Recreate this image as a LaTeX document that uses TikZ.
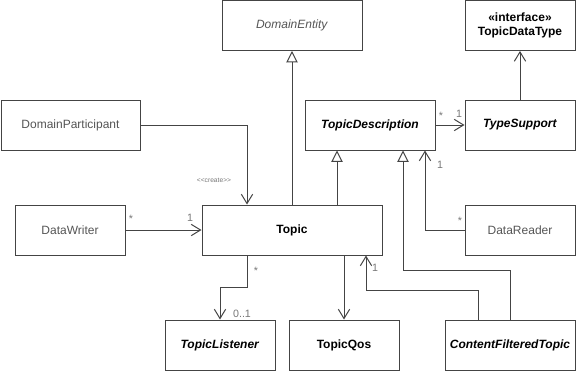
\documentclass[tikz,border=0pt]{standalone}
\usepackage{fontspec}
\setmainfont{Liberation Sans}
\usetikzlibrary{positioning,arrows.meta}
\definecolor{lineGray}{HTML}{444444}
\definecolor{textGray}{HTML}{555555}
\definecolor{labelGray}{HTML}{777777}

\tikzset{
  umlclass/.style={draw=lineGray, line width=0.75pt, fill=white, minimum height=37.5pt,
    inner sep=0pt, align=center, font=\fontsize{9}{10.5}\selectfont},
  boxw/.style={minimum width=#1*0.75pt},
  assoc/.style={lineGray, line width=0.75pt, -{Straight Barb[length=7pt,width=8.5pt]}},
  gen/.style={lineGray, line width=0.75pt, -{Triangle[open,length=8.5pt,width=8.5pt,fill=white]}},
  mult/.style={labelGray, font=\fontsize{8}{9}\selectfont, inner sep=0pt},
}

\begin{document}
\begin{tikzpicture}[x=0.75pt,y=-0.75pt]
        \useasboundingbox (0,0) rectangle (576,371);
        % classes
        \node[umlclass, boxw=140] (entity) at (292,25.5) {\textcolor{textGray}{\textit{DomainEntity}}};
        \node[umlclass, boxw=110] (datatype) at (520,25.5) {\textbf{«interface»}\\\textbf{TopicDataType}};
        \node[umlclass, boxw=139] (participant) at (70.5,125) {\textcolor{textGray}{DomainParticipant}};
        \node[umlclass, boxw=130] (tdesc) at (370,125) {\textbf{\textit{TopicDescription}}};
        \node[umlclass, boxw=110] (typesupport) at (520,125) {\textbf{\textit{TypeSupport}}};
        \node[umlclass, boxw=110] (writer) at (70,230) {\textcolor{textGray}{DataWriter}};
        \node[umlclass, boxw=180] (topic) at (292,230) {\textbf{Topic}};
        \node[umlclass, boxw=110] (reader) at (520,230) {\textcolor{textGray}{DataReader}};
        \node[umlclass, boxw=110] (listener) at (220,345) {\textbf{\textit{TopicListener}}};
        \node[umlclass, boxw=110] (qos) at (344,345) {\textbf{TopicQos}};
        \node[umlclass, boxw=130] (cft) at (510,345) {\textbf{\textit{ContentFilteredTopic}}};
        % bends
        \coordinate (tdcol) at (337,0);
        \coordinate (cftbend) at (403,270);
        \coordinate (rdbend) at (425,230);
        \coordinate (crbend) at (247,125);
        \coordinate (lsbend) at (247,287);
        \coordinate (ftop) at (478,290);
        \coordinate (fbend) at (366,290);
        % generalizations
        \draw[gen] (topic.north) -- (entity.south);
        \draw[gen] (topic.north -| tdcol) -- (tdesc.south -| tdcol);
        \draw[gen] (cft.north) |- (cftbend) -- (tdesc.south -| cftbend);
        % associations
        \draw[assoc] (reader.west) -- (rdbend) -- (tdesc.south -| rdbend);
        \draw[assoc] (tdesc.east) -- (typesupport.west);
        \draw[assoc] (typesupport.north) -- (datatype.south);
        \draw[assoc] (participant.east) -- (crbend) -- (topic.north -| crbend);
        \draw[assoc] (writer.east) -- (topic.west);
        \draw[assoc] (topic.south -| lsbend) -- (lsbend) -| (listener.north);
        \draw[assoc] (topic.south -| qos.north) -- (qos.north);
        \draw[assoc] (cft.north -| ftop) -- (ftop) -- (fbend) -- (topic.south -| fbend);
        % labels
        \node[mult, font=\fontsize{5}{6}\selectfont] (create) at (214,180) {<\kern0pt<create>\kern0pt>};
        \node[mult] (wrmany) at (131,219) {*};
        \node[mult] (wrone) at (190,218) {1};
        \node[mult] (tdmany) at (441,116) {*};
        \node[mult] (tsone) at (459,114) {1};
        \node[mult] (rdmany) at (460,221) {*};
        \node[mult] (rdone) at (440,165) {1};
        \node[mult] (lsmany) at (256,271) {*};
        \node[mult] (lsopt) at (242,314) {0..1};
        \node[mult] (fone) at (375,268) {1};
      \end{tikzpicture}
\end{document}
